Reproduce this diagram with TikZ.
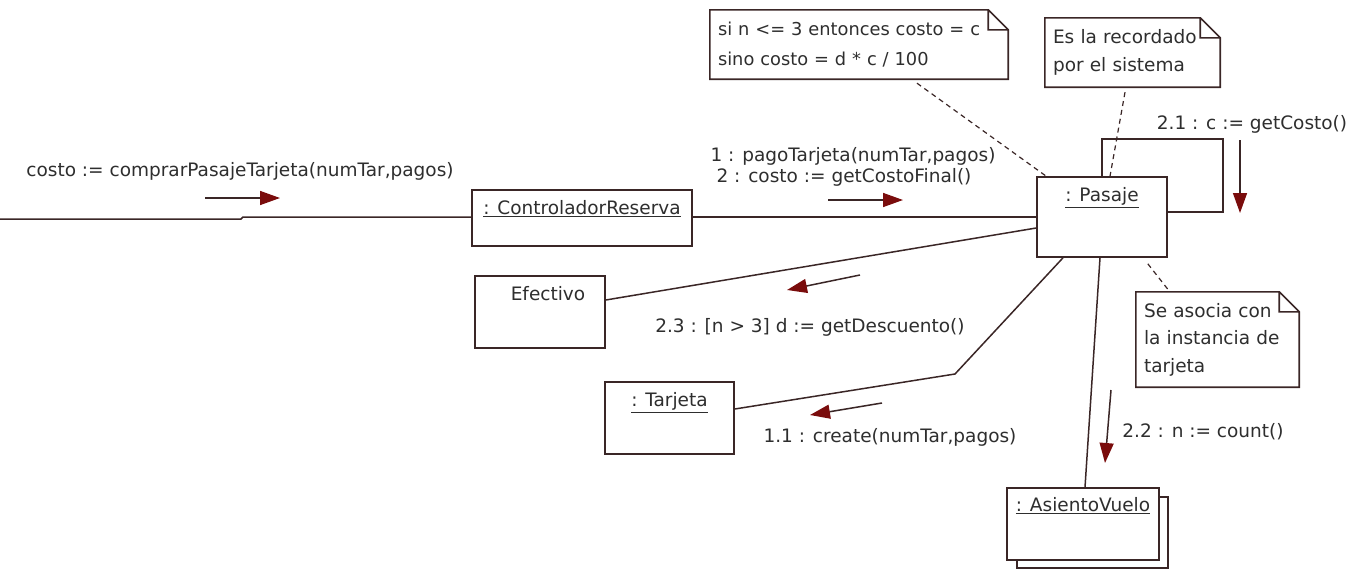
\documentclass[tikz,border=0pt]{standalone}
\usepackage{fontspec}
\setmainfont{DejaVu Sans}
\usetikzlibrary{arrows.meta}
\definecolor{ln}{HTML}{3A2626}
\definecolor{arr}{HTML}{7A0C0C}
\definecolor{txt}{HTML}{2E2E2E}
\begin{document}
\begin{tikzpicture}[x=1pt,y=-1pt,
  every node/.style={font=\fontsize{18.5}{28}\selectfont, text=txt},
  obj/.style 2 args={draw=ln, line width=1.6pt, fill=white, inner sep=0pt, minimum width=#1, minimum height=#2},
  lbl/.style={inner sep=0pt, text height=13pt, text depth=4pt},
  conn/.style={draw=ln, line width=1.5pt},
  notelink/.style={draw=ln, line width=1.2pt, dash pattern=on 5pt off 4pt},
  note/.style={inner xsep=8pt, inner ysep=0pt, align=left},
  notebox/.style={draw=ln, line width=1.6pt, line join=miter},
  msg/.style={draw=ln, line width=1.5pt, -{Triangle[length=20pt,width=14pt,color=arr,fill=arr]}}
]
\useasboundingbox (0,0) rectangle (1367,570);

% objects
\node[obj={220}{56}] (cr) at (582,218) {};
\node[lbl] at ([yshift=-21]cr.north) {\underline{: ControladorReserva}};
\node[obj={130}{80}] (pas) at (1102,217) {};
\node[lbl] at ([yshift=-21]pas.north) {\underline{: Pasaje}};
\node[obj={130}{72}] (ef) at (540,312) {};
\node[lbl] at ([xshift=8,yshift=-21]ef.north) {Efectivo};
\node[obj={129}{72}] (tj) at (669.5,418) {};
\node[lbl] at ([yshift=-21]tj.north) {\underline{: Tarjeta}};
\node[obj={151}{71}] (avb) at (1092.5,532.5) {};
\node[obj={152}{72}] (av) at (1083,524) {};
\node[lbl] at ([yshift=-20]av.north) {\underline{: AsientoVuelo}};

% notes
\node[note, text width=282pt, minimum height=69pt, font=\fontsize{17.8}{30}\selectfont] (n1) at (859,44.5)
  {si n <= 3 entonces costo = c\\sino costo = d * c / 100};
\node[note, text width=159pt, minimum height=69pt] (n2) at (1132.5,52.5)
  {Es la recordado\\por el sistema};
\node[note, text width=147pt, minimum height=95pt, font=\fontsize{18.5}{27.5}\selectfont] (n3) at (1217.5,339.5)
  {Se asocia con\\la instancia de\\tarjeta};
\foreach \n in {n1,n2,n3}
  \draw[notebox] (\n.north west) -- ([xshift=-20pt]\n.north east) -- ([yshift=-20pt]\n.north east)
    -- (\n.south east) -- (\n.south west) -- cycle
    ([xshift=-20pt]\n.north east) |- ([yshift=-20pt]\n.north east);

% connectors
\coordinate (start) at (0,219);
\coordinate (jog1) at (241,219);
\coordinate (jog2) at (243,217);
\draw[conn] (start) -- (jog1) -- (jog2) -- ([yshift=1pt]cr.west);
\draw[conn] ([yshift=1pt]cr.east) -- ([yshift=1pt]cr.east -| pas.west);
\draw[conn] ([yshift=12pt]ef.east) -- ([yshift=-11pt]pas.west);
\coordinate (bend) at (955,374);
\draw[conn] ([xshift=-39pt]pas.south) -- (bend) -- ([yshift=9pt]tj.east);
\draw[conn] ([xshift=-2pt]pas.south) -- ([xshift=2pt]av.north);
\coordinate (loopc) at (1223,139);
\draw[conn] (pas.north) |- (loopc) |- ([yshift=5pt]pas.east);

% note links
\draw[notelink] ([xshift=58pt,yshift=-4pt]n1.south) -- ([xshift=10pt]pas.north west);
\draw[notelink] ([xshift=-7.5pt,yshift=-5pt]n2.south) -- ([xshift=8pt]pas.north);
\draw[notelink] ([xshift=-20pt,yshift=-6pt]pas.south east) -- ([xshift=34pt]n3.north west);

% messages
\draw[msg] (205,198) -- (280,198);
\node[lbl] (m0) at (240,172) {costo := comprarPasajeTarjeta(numTar,pagos)};
\draw[msg] (828,200) -- (903,200);
\node[lbl] (m1) at (853,157) {1 : pagoTarjeta(numTar,pagos)};
\node[lbl] (m2) at (844,178) {2 : costo := getCostoFinal()};
\draw[msg] (1240,140) -- (1240,213);
\node[lbl] (m21) at (1252,125) {2.1 : c := getCosto()};
\draw[msg] (860,275) -- (787,290);
\node[lbl] (m23) at (810,328) {2.3 : [n > 3] d := getDescuento()};
\draw[msg] (882,403) -- (810,415);
\node[lbl] (m11) at (890,438) {1.1 : create(numTar,pagos)};
\draw[msg] (1111,390) -- (1105,463);
\node[lbl] (m22) at (1203,433) {2.2 : n := count()};
\end{tikzpicture}
\end{document}
